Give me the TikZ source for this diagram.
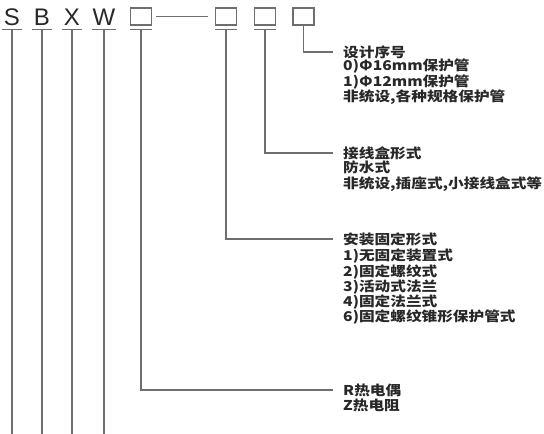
\documentclass[tikz,border=0pt]{standalone}
\usepackage{fontspec}
\setmainfont{Liberation Sans}
\newfontfamily\cjk{Noto Sans CJK SC}
\usetikzlibrary{positioning}
\definecolor{linegray}{RGB}{110,110,110}
\definecolor{inkgray}{RGB}{40,40,40}

\tikzset{
	ln/.style={draw=linegray, line width=1.3pt},
	letter/.style={inner xsep=0pt, inner ysep=4pt, minimum width=20pt, anchor=base, text=inkgray, font=\fontsize{24}{24}\selectfont},
	slot/.style={draw=linegray, line width=1.3pt, minimum width=21pt, minimum height=17pt, inner sep=0pt},
	head/.style={inner sep=0pt, anchor=west, text=inkgray, font=\cjk\bfseries\fontsize{13.5}{15.2}\selectfont, xscale=1.16, transform shape},
	body/.style={head, anchor=north west, align=left},
}

\begin{document}
\begin{tikzpicture}[x=1pt, y=-1pt]
		\useasboundingbox (0,0) rectangle (544,434);

		\node[letter] (S) at (12, 25) {S};
		\node[letter] (B) at (42, 25) {B};
		\node[letter] (X) at (72, 25) {X};
		\node[letter] (W) at (104, 25) {W};

		\node[slot] (b1) at (141, 16.5) {};
		\node[slot] (b2) at (226, 16.5) {};
		\node[slot] (b3) at (265, 16.5) {};
		\node[slot] (b4) at (303.5, 16.5) {};

		\coordinate (Send) at (12, 434);
		\coordinate (Bend) at (42, 434);
		\coordinate (Xend) at (72, 434);
		\coordinate (Wend) at (104, 434);

		% 下線と縦線
		\foreach \c in {S, B, X, W} {
			\draw[ln] (\c.south west) -- (\c.south east);
			\draw[ln] (\c.south) -- (\c end);
		}
		\foreach \c in {b1, b2, b3}
			\draw[ln] ([yshift=-4pt]\c.south west) -- ([yshift=-4pt]\c.south east);
		\draw[ln, shorten <=4pt, shorten >=7pt] (b1) -- (b2);

		% 説明文
		\node[head] (h4) at (343, 52) {设计序号};
		\node[body] (d4) at (343, 59) {0)Φ16mm保护管\\1)Φ12mm保护管\\非统设,各种规格保护管};
		\node[head] (h3) at (343, 153) {接线盒形式};
		\node[body] (d3) at (343, 161) {防水式\\非统设,插座式,小接线盒式等};
		\node[head] (h2) at (343, 239) {安装固定形式};
		\node[body] (d2) at (343, 249) {1)无固定装置式\\2)固定螺纹式\\3)活动式法兰\\4)固定法兰式\\6)固定螺纹锥形保护管式};
		\node[head] (h1) at (343, 390) {R热电偶};
		\node[body] (d1) at (343, 399) {Z热电阻};

		\draw[ln, shorten >=10pt] (b4.south) |- (h4.west);
		\draw[ln, shorten >=10pt] ([yshift=-4pt]b3.south) |- (h3.west);
		\draw[ln, shorten >=10pt] ([yshift=-4pt]b2.south) |- (h2.west);
		\draw[ln, shorten >=10pt] ([yshift=-4pt]b1.south) |- (h1.west);

	\end{tikzpicture}
\end{document}
